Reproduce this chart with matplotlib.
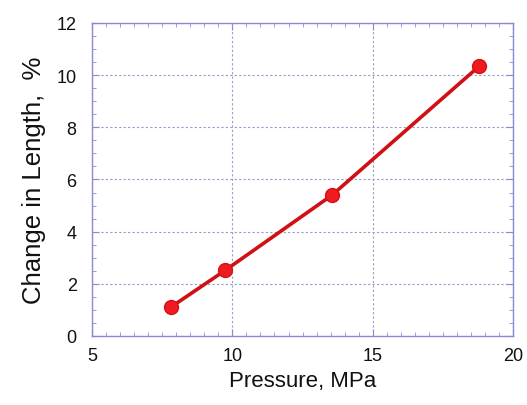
import matplotlib
matplotlib.use("Agg")
import matplotlib.pyplot as plt
from matplotlib.ticker import MultipleLocator

pressure = [7.8, 9.75, 13.55, 18.8]
change_length = [1.1, 2.52, 5.4, 10.35]
x_ticks = [5, 10, 15, 20]
y_ticks = [0, 2, 4, 6, 8, 10, 12]

plt.rcParams['font.family'] = ['Liberation Sans', 'DejaVu Sans']

fig = plt.figure(figsize=(5.27, 4.06), dpi=100)
ax = fig.add_axes([0.1746, 0.17, 0.799, 0.771])

axis_color = '#8a8ad2'
grid_color = '#9a9ac8'

ax.plot(pressure, change_length, color='#d01014', lw=2.6, marker='o',
        markersize=10, markerfacecolor='#ee1c20', markeredgecolor='#d81018', zorder=3)

ax.set_xlim(5, 20)
ax.set_ylim(0, 12)
ax.set_xticks(x_ticks)
ax.set_yticks(y_ticks)
ax.xaxis.set_minor_locator(MultipleLocator(0.5))
ax.yaxis.set_minor_locator(MultipleLocator(0.5))

for s in ax.spines.values():
    s.set_color(axis_color)
    s.set_linewidth(1.0)

ax.tick_params(which='both', direction='in', top=True, right=True, color=axis_color)
ax.tick_params(which='major', length=5, width=0.8, labelsize=13, labelcolor='#111111')
ax.tick_params(which='minor', length=3, width=0.6)
ax.tick_params(axis='x', which='major', pad=8)
ax.tick_params(axis='y', which='major', pad=11)

ax.grid(True, which='major', color=grid_color, linestyle=(0, (2, 2)), linewidth=0.8)

ax.set_xlabel('Pressure, MPa', fontsize=16, color='#111111', labelpad=4)
ax.set_ylabel('Change in Length,  %', fontsize=18.5, color='#111111', labelpad=8)

fig.savefig('out.png', dpi=100)
